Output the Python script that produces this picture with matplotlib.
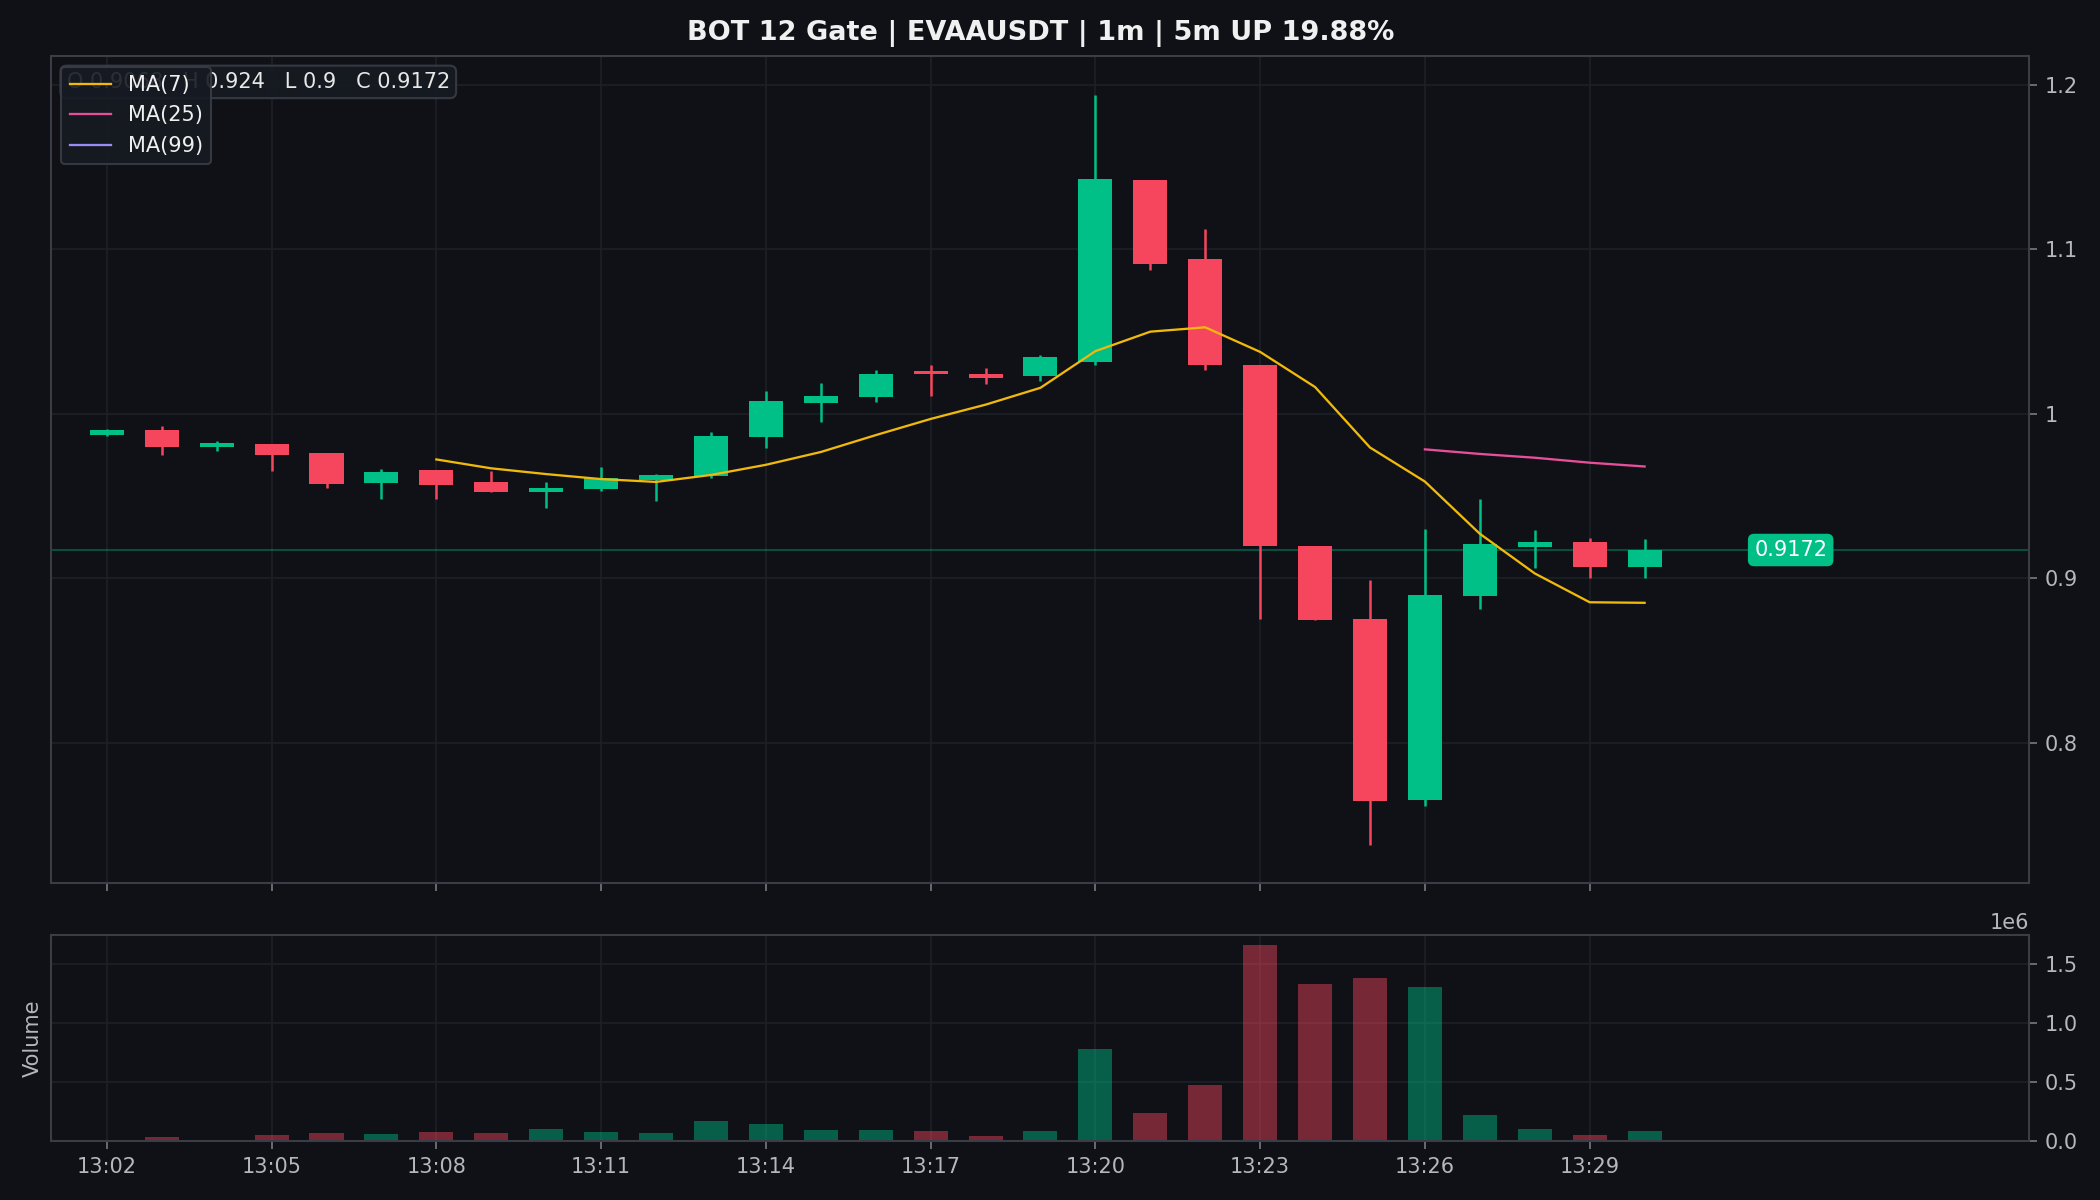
import numpy as np
import pandas as pd
import matplotlib
matplotlib.use("Agg")
import matplotlib.pyplot as plt

times = ["13:02","13:03","13:04","13:05","13:06","13:07","13:08","13:09","13:10","13:11",
         "13:12","13:13","13:14","13:15","13:16","13:17","13:18","13:19","13:20","13:21",
         "13:22","13:23","13:24","13:25","13:26","13:27","13:28","13:29","13:30"]
opens  = [0.9870,0.9903,0.9797,0.9814,0.9759,0.9579,0.9656,0.9583,0.9524,0.9542,
          0.9595,0.9621,0.9858,1.0065,1.0101,1.0261,1.0243,1.0229,1.0314,1.1425,
          1.0942,1.0298,0.9198,0.8750,0.7653,0.8892,0.9189,0.9222,0.9068]
highs  = [0.9907,0.9929,0.9832,0.9814,0.9759,0.9662,0.9656,0.9651,0.9583,0.9674,
          0.9637,0.9887,1.0142,1.0188,1.0267,1.0298,1.0280,1.0361,1.1941,1.1425,
          1.1127,1.0298,0.9198,0.8987,0.9297,0.9483,0.9291,0.9244,0.9240]
lows   = [0.9866,0.9747,0.9773,0.9651,0.9548,0.9481,0.9481,0.9524,0.9427,0.9530,
          0.9473,0.9609,0.9791,0.9949,1.0071,1.0107,1.0180,1.0199,1.0300,1.0877,
          1.0265,0.8750,0.8746,0.7376,0.7613,0.8811,0.9062,0.9001,0.9000]
closes = [0.9903,0.9797,0.9824,0.9749,0.9572,0.9649,0.9566,0.9524,0.9552,0.9611,
          0.9629,0.9868,1.0081,1.0111,1.0243,1.0241,1.0219,1.0347,1.1429,1.0910,
          1.0296,0.9196,0.8746,0.7645,0.8896,0.9206,0.9222,0.9068,0.9172]
volumes = [2000,31000,3000,48000,65000,56000,73000,65000,99000,73000,
           65000,167000,141000,90000,90000,82000,40000,82000,777000,234000,
           480000,1667000,1336000,1387000,1311000,218000,99000,48000,82000]

title = "BOT 12 Gate | EVAAUSDT | 1m | 5m UP 19.88%"

BG = "#0f1117"
GREEN = "#00c087"
RED = "#f6465d"
GRID = "#1d2027"
SPINE = "#3a3d45"
TXT = "#b4b7bd"

df = pd.DataFrame({"o": opens, "h": highs, "l": lows, "c": closes, "v": volumes})
x = np.arange(len(df))
ma7 = df["c"].rolling(7).mean()
ma25 = df["c"].rolling(25).mean()
ma99 = df["c"].rolling(99).mean()

fig = plt.figure(figsize=(14, 8), dpi=150, facecolor=BG)
ax = fig.add_axes([0.0242, 0.2645, 0.942, 0.6886], facecolor=BG)
axv = fig.add_axes([0.0242, 0.0491, 0.942, 0.1719], facecolor=BG, sharex=ax)

up = df["c"] >= df["o"]
colors = [GREEN if u else RED for u in up]
w = 0.62
for i in range(len(df)):
    ax.vlines(x[i], df["l"][i], df["h"][i], color=colors[i], linewidth=1.2, zorder=2)
    lo = min(df["o"][i], df["c"][i])
    hgt = abs(df["c"][i] - df["o"][i])
    ax.bar(x[i], max(hgt, 0.0008), width=w, bottom=lo, color=colors[i], zorder=3, linewidth=0)

l1, = ax.plot(x, ma7, color="#f0b90b", linewidth=1.1, label="MA(7)", zorder=4)
l2, = ax.plot(x, ma25, color="#e84f9b", linewidth=1.1, label="MA(25)", zorder=4)
l3, = ax.plot(x, ma99, color="#9b8cf5", linewidth=1.1, label="MA(99)", zorder=4)

last = closes[-1]
ax.axhline(last, color=GREEN, alpha=0.35, linewidth=1.0, zorder=1)
ax.text(30.66, last, f"{last:.4f}", ha="center", va="center", color="white", fontsize=10,
        bbox=dict(boxstyle="round,pad=0.3", fc=GREEN, ec="none"), zorder=6)

ax.text(0.008, 0.969, f"O {opens[-1]:g}   H {highs[-1]:g}   L {lows[-1]:g}   C {closes[-1]:g}",
        transform=ax.transAxes, ha="left", va="center", color="#e8e8e8", fontsize=10,
        bbox=dict(boxstyle="round,pad=0.3", fc="#161a22", ec=SPINE, alpha=0.9), zorder=5)

leg = ax.legend(handles=[l1, l2, l3], loc="upper left", fontsize=10, facecolor="#161a22",
                edgecolor=SPINE, labelcolor="#f0f0f0", framealpha=0.9,
                borderaxespad=0.5, handlelength=2.0)
leg.set_zorder(7)

vcolors = [GREEN if u else RED for u in up]
axv.bar(x, df["v"], width=0.62, color=vcolors, alpha=0.45, linewidth=0)

ax.set_xlim(-1.02, 35.0)
ax.set_ylim(0.7149, 1.2175)
axv.set_ylim(0, 1.75e6)

ax.set_yticks([0.8, 0.9, 1.0, 1.1, 1.2])
ax.set_yticklabels(["0.8", "0.9", "1", "1.1", "1.2"])
axv.set_yticks([0, 0.5e6, 1.0e6, 1.5e6])

ticks = list(range(0, len(df), 3))
axv.set_xticks(ticks)
axv.set_xticklabels([times[i] for i in ticks])
ax.tick_params(axis="x", labelbottom=False)

for a in (ax, axv):
    a.yaxis.tick_right()
    a.tick_params(colors=TXT, labelsize=10, length=4, color="#777a80")
    a.grid(True, color=GRID, linewidth=0.8)
    a.set_axisbelow(True)
    for s in a.spines.values():
        s.set_color(SPINE)
        s.set_linewidth(1.0)

axv.yaxis.get_offset_text().set_color(TXT)
axv.yaxis.get_offset_text().set_fontsize(10)
axv.set_ylabel("Volume", color=TXT, fontsize=10)
axv.yaxis.set_label_position("left")

fig.suptitle(title, color="#f0f0f0", fontsize=13, fontweight="bold", x=0.4955, y=0.972, va="center")

fig.savefig("out.png", dpi=150, facecolor=BG)
